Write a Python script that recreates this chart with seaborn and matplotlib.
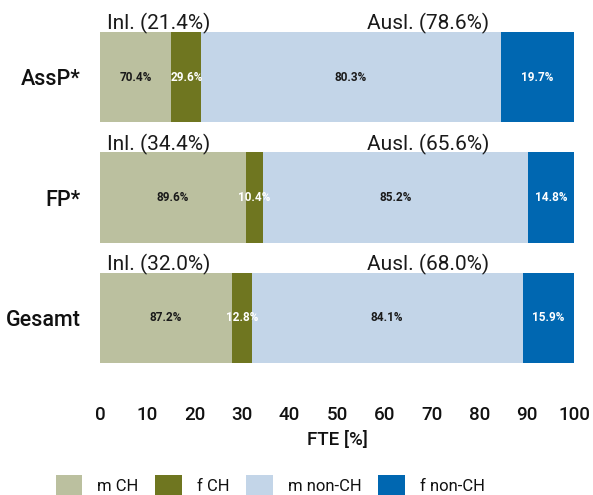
import matplotlib
matplotlib.use("Agg")
import matplotlib.pyplot as plt
from matplotlib.patches import Patch
import numpy as np
import pandas as pd
import seaborn as sns

# Staff groups and their split into domestic (Inl.) and foreign (Ausl.) FTE shares
groups = ["AssP*", "FP*", "Gesamt"]
inl_share = [21.4, 34.4, 32.0]
ausl_share = [78.6, 65.6, 68.0]

# Gender split within each origin block, in percent of that block
m_ch = [70.4, 89.6, 87.2]
f_ch = [29.6, 10.4, 12.8]
m_nonch = [80.3, 85.2, 84.1]
f_nonch = [19.7, 14.8, 15.9]

series_names = ["m CH", "f CH", "m non-CH", "f non-CH"]
colors = ["#bbc09f", "#6f7620", "#c3d5e8", "#0067b1"]

sns.set_theme(style="white")
plt.rcParams["font.family"] = ["Roboto", "DejaVu Sans"]
plt.rcParams["text.color"] = "#111111"

inl = np.array(inl_share)
ausl = np.array(ausl_share)
seg = np.array([
    inl * np.array(m_ch) / 100,
    inl * np.array(f_ch) / 100,
    ausl * np.array(m_nonch) / 100,
    ausl * np.array(f_nonch) / 100,
])
cum = np.cumsum(seg, axis=0)
starts = cum - seg

fig = plt.figure(figsize=(5.93, 4.95), dpi=100)
ax = fig.add_axes([100 / 593, 1 - 378 / 495, 474 / 593, 361 / 495])

# Stack by overlaying cumulative bars, widest first
for k in range(3, -1, -1):
    df = pd.DataFrame({"group": groups, "value": cum[k]})
    sns.barplot(data=df, x="value", y="group", orient="h", color=colors[k],
                saturation=1, width=0.75, ax=ax, linewidth=0)

ax.set_xlim(0, 100)
ax.set_ylim(2.5, -0.5)
ax.set_xticks(range(0, 101, 10))
ax.tick_params(axis="x", labelsize=13.5, pad=20, length=0, labelcolor="#111111")
ax.tick_params(axis="y", labelsize=15.5, pad=14, length=0, labelcolor="#111111")
for lab in ax.get_xticklabels() + ax.get_yticklabels():
    lab.set_fontweight("medium")
ax.set_ylabel("")
ax.set_xlabel("FTE [%]", fontsize=13.5, labelpad=5, color="#111111",
              fontweight="medium")
for s in ax.spines.values():
    s.set_visible(False)

pct_lists = [m_ch, f_ch, m_nonch, f_nonch]
text_colors = ["#1a1a1a", "white", "#1a1a1a", "white"]
for i in range(len(groups)):
    for k in range(4):
        xc = starts[k, i] + seg[k, i] / 2
        ax.text(xc, i, f"{pct_lists[k][i]:.1f}%", ha="center", va="center",
                fontsize=8.5, fontweight="bold", color=text_colors[k])
    ax.text(1.5, i - 0.355, f"Inl. ({inl_share[i]:.1f}%)", ha="left",
            va="bottom", fontsize=15, color="#1a1a1a")
    ax.text(69.3, i - 0.355, f"Ausl. ({ausl_share[i]:.1f}%)", ha="center",
            va="bottom", fontsize=15, color="#1a1a1a")

handles = [Patch(facecolor=c, edgecolor="none", label=n)
           for c, n in zip(colors, series_names)]
fig.legend(handles=handles, loc="center", bbox_to_anchor=(270 / 593, 1 - 486 / 495),
           ncol=4, frameon=False, fontsize=12, handlelength=1.6, handleheight=1.6,
           handletextpad=0.9, columnspacing=1.0)

fig.savefig("out.png", dpi=100)
